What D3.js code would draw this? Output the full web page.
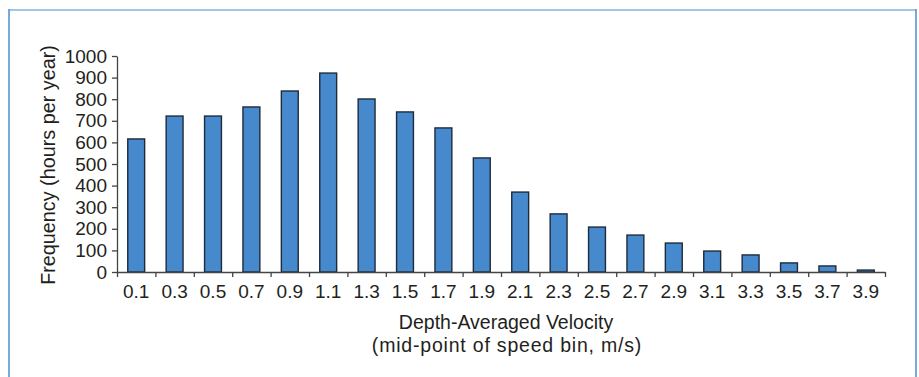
<!DOCTYPE html>
<html>
<head>
<meta charset="utf-8">
<script src="https://cdn.jsdelivr.net/npm/d3@7"></script>
<style>
  body { margin: 0; background: #fff; }
  svg { display: block; font-family: "Liberation Sans", Arial, sans-serif; }
</style>
</head>
<body>
<svg id="chart" width="919" height="377"></svg>
<script>
// speed bin mid-points (m/s)
const bins = ["0.1", "0.3", "0.5", "0.7", "0.9", "1.1", "1.3", "1.5", "1.7", "1.9",
              "2.1", "2.3", "2.5", "2.7", "2.9", "3.1", "3.3", "3.5", "3.7", "3.9"];
// hours per year in each bin
const hours = [616, 722, 722, 764, 838, 921, 801, 741, 667, 528,
               370, 269, 208, 171, 134, 97, 79, 42, 28, 9];
const yTicks = [0, 100, 200, 300, 400, 500, 600, 700, 800, 900, 1000];

const data = bins.map((b, i) => ({ bin: b, value: hours[i] }));

const svg = d3.select("#chart");
const m = { left: 117, right: 885, top: 56, bottom: 272 };
const ink = "#231f20";

// panel frame (left/top/right edges)
svg.append("line").attr("x1", 9).attr("x2", 916).attr("y1", 10).attr("y2", 10)
  .attr("stroke", "#a3c6e8").attr("stroke-width", 2);
svg.append("line").attr("x1", 9).attr("x2", 9).attr("y1", 9).attr("y2", 377)
  .attr("stroke", "#4a8fd6").attr("stroke-width", 1.5);
svg.append("line").attr("x1", 916).attr("x2", 916).attr("y1", 9).attr("y2", 377)
  .attr("stroke", "#4a8fd6").attr("stroke-width", 1.5);

const x = d3.scaleBand()
  .domain(bins)
  .range([m.left, m.right])
  .paddingInner(0.56)
  .paddingOuter(0.28);

// bin edges for tick marks
const xEdge = d3.scaleLinear().domain([0, bins.length]).range([m.left, m.right]);

const y = d3.scaleLinear().domain([0, 1000]).range([m.bottom, m.top]);

// bars
svg.append("g")
  .selectAll("rect")
  .data(data)
  .join("rect")
  .attr("x", d => x(d.bin))
  .attr("y", d => y(d.value))
  .attr("width", x.bandwidth())
  .attr("height", d => y(0) - y(d.value))
  .attr("fill", "#4689cc")
  .attr("stroke", "#1e2b3a")
  .attr("stroke-width", 1.4);

// y axis
const yAxis = svg.append("g")
  .attr("transform", `translate(${m.left},0)`)
  .call(d3.axisLeft(y).tickValues(yTicks).tickFormat(d3.format("d"))
    .tickSize(5).tickPadding(5).tickSizeOuter(0));
yAxis.selectAll("text").style("font-size", "19px").attr("fill", ink);

// x axis: ticks at bin edges
svg.append("g")
  .attr("transform", `translate(0,${m.bottom})`)
  .call(d3.axisBottom(xEdge).tickValues(d3.range(0, bins.length + 1))
    .tickSize(5).tickFormat("").tickSizeOuter(0));

// x labels at bin centres
const xLab = svg.append("g")
  .attr("transform", `translate(0,${m.bottom})`)
  .call(d3.axisBottom(x).tickSize(0).tickPadding(13));
xLab.select(".domain").remove();
xLab.selectAll("text").style("font-size", "19px").attr("fill", ink);

svg.selectAll(".domain, .tick line").attr("stroke", "#444").attr("stroke-width", 1.3);

// axis titles
const cx = (m.left + m.right) / 2 + 5;
svg.append("text")
  .attr("x", cx).attr("y", 329)
  .attr("text-anchor", "middle").style("font-size", "19.5px").attr("fill", ink)
  .text("Depth-Averaged Velocity");
svg.append("text")
  .attr("x", cx + 1).attr("y", 352)
  .attr("text-anchor", "middle").style("font-size", "19.5px")
  .style("letter-spacing", "0.8px").attr("fill", ink)
  .text("(mid-point of speed bin, m/s)");
svg.append("text")
  .attr("transform", `translate(55,${(m.top + m.bottom) / 2 + 1}) rotate(-90)`)
  .attr("text-anchor", "middle").style("font-size", "19.8px").attr("fill", ink)
  .text("Frequency (hours per year)");
</script>
</body>
</html>
